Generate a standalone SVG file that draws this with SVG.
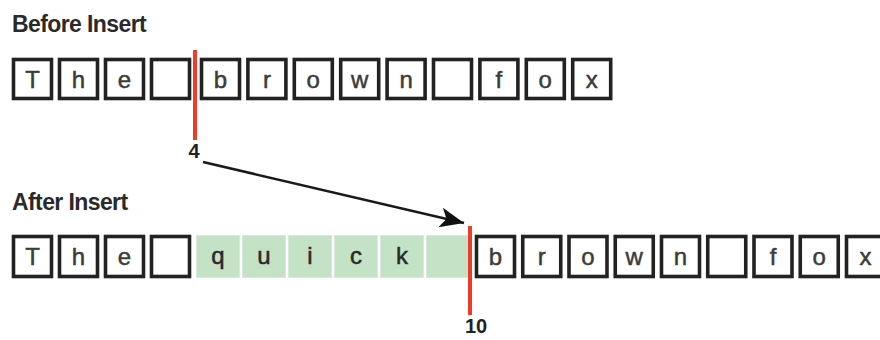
<svg xmlns="http://www.w3.org/2000/svg" width="880" height="340" viewBox="0 0 880 340">
<style>
.title{font-family:"Liberation Sans",Arial,sans-serif;font-weight:bold;font-size:23px;fill:#2a2a2a;letter-spacing:-0.6px}
.box{fill:#fff;stroke:#222;stroke-width:3.6}
.g{fill:#c4e2c6;stroke:#d6ebd7;stroke-width:1}
.ch{font-family:"Liberation Sans",Arial,sans-serif;font-size:24px;fill:#3c3c3c;text-anchor:middle;stroke:#3c3c3c;stroke-width:0.5}
.gch{font-family:"Liberation Sans",Arial,sans-serif;font-size:24px;fill:#2a2a2a;text-anchor:middle;stroke:#2a2a2a;stroke-width:0.5}
.num{font-family:"Liberation Sans",Arial,sans-serif;font-weight:bold;font-size:20px;fill:#222;text-anchor:middle}
.cursor{stroke:#f23a2a;stroke-width:4}
.conn{stroke:#1a1a1a;stroke-width:2.5;fill:none}
</style>
<defs>
<marker id="ah" markerUnits="userSpaceOnUse" markerWidth="28" markerHeight="22" refX="24" refY="11" orient="auto">
<path d="M0,1 L24,11 L0,21 L6,11 Z" fill="#111"/>
</marker>
</defs>

<text class="title" x="12" y="32">Before Insert</text>
<text class="title" x="12" y="210">After Insert</text>

<g id="before">
<g id="b-T"><rect class="box" x="13.5" y="59.5" width="38" height="39"/><text class="ch" x="32.5" y="88">T</text></g>
<g id="b-h"><rect class="box" x="59.5" y="59.5" width="38" height="39"/><text class="ch" x="78.5" y="88">h</text></g>
<g id="b-e"><rect class="box" x="105.5" y="59.5" width="38" height="39"/><text class="ch" x="124.5" y="88">e</text></g>
<g id="b-sp1"><rect class="box" x="151.5" y="59.5" width="38" height="39"/></g>
<g id="b-b"><rect class="box" x="201.5" y="59.5" width="38" height="39"/><text class="ch" x="220.5" y="88">b</text></g>
<g id="b-r"><rect class="box" x="247.9" y="59.5" width="38" height="39"/><text class="ch" x="266.9" y="88">r</text></g>
<g id="b-o"><rect class="box" x="294.3" y="59.5" width="38" height="39"/><text class="ch" x="313.3" y="88">o</text></g>
<g id="b-w"><rect class="box" x="340.7" y="59.5" width="38" height="39"/><text class="ch" x="359.7" y="88">w</text></g>
<g id="b-n"><rect class="box" x="387.1" y="59.5" width="38" height="39"/><text class="ch" x="406.1" y="88">n</text></g>
<g id="b-sp2"><rect class="box" x="433.5" y="59.5" width="38" height="39"/></g>
<g id="b-f"><rect class="box" x="479.9" y="59.5" width="38" height="39"/><text class="ch" x="498.9" y="88">f</text></g>
<g id="b-o2"><rect class="box" x="526.3" y="59.5" width="38" height="39"/><text class="ch" x="545.3" y="88">o</text></g>
<g id="b-x"><rect class="box" x="572.7" y="59.5" width="38" height="39"/><text class="ch" x="591.7" y="88">x</text></g>
</g>

<g id="after">
<g id="a-T"><rect class="box" x="13.5" y="236.5" width="38" height="40"/><text class="ch" x="32.5" y="265">T</text></g>
<g id="a-h"><rect class="box" x="59.5" y="236.5" width="38" height="40"/><text class="ch" x="78.5" y="265">h</text></g>
<g id="a-e"><rect class="box" x="105.5" y="236.5" width="38" height="40"/><text class="ch" x="124.5" y="265">e</text></g>
<g id="a-sp1"><rect class="box" x="151.5" y="236.5" width="38" height="40"/></g>
<g id="a-q"><rect class="g" x="196.5" y="235.5" width="43" height="42"/><text class="gch" x="218" y="264">q</text></g>
<g id="a-u"><rect class="g" x="242.5" y="235.5" width="43" height="42"/><text class="gch" x="264" y="264">u</text></g>
<g id="a-i"><rect class="g" x="288.5" y="235.5" width="43" height="42"/><text class="gch" x="310" y="264">i</text></g>
<g id="a-c"><rect class="g" x="334.5" y="235.5" width="43" height="42"/><text class="gch" x="356" y="264">c</text></g>
<g id="a-k"><rect class="g" x="380.5" y="235.5" width="43" height="42"/><text class="gch" x="402" y="264">k</text></g>
<g id="a-sp2"><rect class="g" x="426.5" y="235.5" width="43" height="42"/></g>
<g id="a-b"><rect class="box" x="476.5" y="236.5" width="38" height="40"/><text class="ch" x="495.5" y="265">b</text></g>
<g id="a-r"><rect class="box" x="522.75" y="236.5" width="38" height="40"/><text class="ch" x="541.75" y="265">r</text></g>
<g id="a-o"><rect class="box" x="569" y="236.5" width="38" height="40"/><text class="ch" x="588" y="265">o</text></g>
<g id="a-w"><rect class="box" x="615.25" y="236.5" width="38" height="40"/><text class="ch" x="634.25" y="265">w</text></g>
<g id="a-n"><rect class="box" x="661.5" y="236.5" width="38" height="40"/><text class="ch" x="680.5" y="265">n</text></g>
<g id="a-sp3"><rect class="box" x="707.75" y="236.5" width="38" height="40"/></g>
<g id="a-f"><rect class="box" x="754" y="236.5" width="38" height="40"/><text class="ch" x="773" y="265">f</text></g>
<g id="a-o2"><rect class="box" x="800.25" y="236.5" width="38" height="40"/><text class="ch" x="819.25" y="265">o</text></g>
<g id="a-x"><rect class="box" x="846.5" y="236.5" width="38" height="40"/><text class="ch" x="865.5" y="265">x</text></g>
</g>

<g id="cursor-before">
<line class="cursor" x1="195" y1="50" x2="195" y2="140"/>
<text class="num" x="194" y="158">4</text>
</g>
<g id="cursor-after">
<line class="cursor" x1="470" y1="226" x2="470" y2="315"/>
<text class="num" x="476" y="333">10</text>
</g>

<g id="connectors">
<line class="conn" x1="203" y1="162" x2="464" y2="223" marker-end="url(#ah)"/>
</g>
</svg>
